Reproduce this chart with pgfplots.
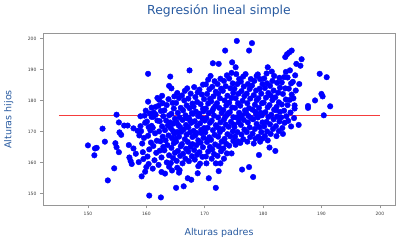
\documentclass[border=0pt]{standalone}
\usepackage{fontspec}
\setmainfont{DejaVu Sans}
\usepackage{pgfplots}
\pgfplotsset{compat=1.18}
\usepackage{pgfplotstable}
\usetikzlibrary{calc}
\definecolor{titleblue}{RGB}{40,90,160}
\definecolor{spinegray}{RGB}{150,150,150}
\definecolor{ticklab}{RGB}{60,60,60}
\definecolor{dotblue}{RGB}{0,0,255}
\definecolor{lred}{RGB}{245,60,60}

\pgfplotstableread{
x y
150.0 165.6
151.2 164.6
151.5 164.8
151.1 162.4
152.5 171.0
152.9 166.8
153.4 154.3
154.5 158.2
154.7 166.3
154.9 165.0
154.9 175.5
155.3 173.0
155.3 163.4
155.4 169.8
155.7 169.0
156.2 172.0
156.8 172.0
157.0 165.7
157.1 161.7
157.3 160.6
157.5 159.6
157.8 171.1
157.8 164.6
158.2 162.9
158.7 160.2
159.2 155.6
159.8 157.1
160.0 158.6
160.5 149.4
162.5 148.8
160.3 188.7
160.3 179.7
162.2 180.3
162.7 181.6
158.8 168.8
159.0 171.8
159.0 175.0
159.7 175.2
160.4 171.5
160.9 174.8
161.6 175.5
158.5 170.3
159.3 166.2
159.6 168.0
159.1 170.2
159.8 172.9
159.4 163.4
159.9 176.8
159.5 161.2
160.2 162.0
160.5 164.3
160.8 166.5
160.3 168.7
160.7 170.4
160.1 173.3
160.6 175.9
160.9 177.8
160.4 159.6
160.9 171.9
161.1 158.1
161.4 160.8
161.7 163.2
161.2 165.4
161.8 167.1
161.5 169.5
161.1 171.3
161.9 173.6
161.3 176.2
161.6 178.0
161.9 180.9
161.2 174.8
162.1 159.3
162.6 161.7
162.3 163.9
162.9 165.1
162.4 166.9
162.8 168.4
162.2 170.1
162.7 171.7
162.3 173.4
162.9 175.0
162.5 176.7
162.1 178.4
162.8 179.2
162.6 157.0
163.2 156.5
163.5 160.1
163.9 162.4
163.1 164.0
163.6 165.7
163.3 167.2
163.8 168.8
163.2 170.5
163.7 172.0
163.4 173.6
163.9 175.3
163.1 176.9
163.5 178.6
163.8 180.5
163.9 158.7
163.9 184.8
164.1 187.8
164.3 184.0
164.2 159.9
164.6 161.5
164.9 163.2
164.3 164.8
164.7 166.3
164.4 167.9
164.8 169.4
164.2 171.1
164.6 172.6
164.9 174.2
164.3 175.8
164.7 177.5
164.5 179.3
164.8 181.4
164.4 157.5
164.6 170.2
164.1 173.0
165.1 151.9
165.3 158.4
165.7 157.6
165.6 156.8
165.2 160.6
165.8 162.2
165.4 163.8
165.9 165.3
165.1 166.8
165.6 168.4
165.3 169.9
165.8 171.5
165.2 173.0
165.7 174.6
165.4 176.1
165.9 177.7
165.1 179.3
165.6 180.9
165.3 182.5
165.5 172.1
165.0 167.7
166.4 152.4
166.2 159.8
166.7 161.3
166.3 162.9
166.8 164.5
166.1 166.0
166.6 167.6
166.9 169.1
166.4 170.7
166.8 172.2
166.2 173.8
166.7 175.3
166.3 176.9
166.9 178.5
166.5 180.1
166.1 181.7
166.6 183.2
166.0 170.0
166.9 174.4
167.1 155.0
167.7 154.5
167.4 189.8
167.3 160.5
167.8 162.1
167.2 163.6
167.6 165.2
167.1 166.7
167.9 168.3
167.5 169.8
167.2 171.4
167.7 172.9
167.3 174.5
167.8 176.0
167.4 177.6
167.9 179.1
167.2 180.7
167.6 182.3
167.0 184.0
167.5 173.6
167.9 166.0
168.8 156.6
168.3 161.0
168.7 162.6
168.2 164.1
168.6 165.7
168.9 167.2
168.4 168.8
168.1 170.3
168.7 171.9
168.3 173.4
168.9 175.0
168.5 176.5
168.1 178.1
168.7 179.6
168.4 181.2
168.8 182.7
168.2 184.4
168.6 169.6
168.0 175.8
168.9 158.9
169.2 159.7
169.6 161.9
169.1 163.4
169.7 165.0
169.3 166.5
169.8 168.1
169.4 169.6
169.9 171.2
169.2 172.7
169.6 174.3
169.1 175.8
169.7 177.4
169.3 178.9
169.9 180.5
169.5 182.0
169.1 183.6
169.7 185.2
169.4 170.6
169.8 176.6
170.7 155.0
170.3 159.8
170.2 162.0
170.6 163.6
170.9 165.1
170.4 166.7
170.8 168.2
170.1 169.8
170.5 171.3
170.9 172.9
170.3 174.4
170.7 176.0
170.2 177.5
170.6 179.1
170.9 180.6
170.4 182.2
170.8 183.7
170.2 185.3
170.6 186.8
170.0 173.6
170.5 167.4
171.9 151.9
171.9 159.8
171.4 192.1
171.2 161.3
171.6 162.8
171.3 164.3
171.8 165.9
171.1 167.4
171.7 169.0
171.4 170.5
171.9 172.1
171.2 173.6
171.6 175.2
171.3 176.7
171.8 178.3
171.1 179.8
171.5 181.4
171.9 182.9
171.3 184.5
171.7 186.3
171.0 188.0
171.5 177.5
172.7 159.8
172.4 157.3
172.4 191.9
172.2 162.2
172.8 163.7
172.4 165.3
172.9 166.8
172.3 168.4
172.6 169.9
172.1 171.5
172.7 173.0
172.3 174.6
172.9 176.1
172.5 177.7
172.1 179.2
172.6 180.8
172.3 182.3
172.8 183.9
172.2 185.4
172.7 187.1
172.5 171.0
173.5 196.2
173.3 161.3
173.8 163.0
173.2 164.6
173.7 166.1
173.4 167.7
173.9 169.2
173.1 170.8
173.6 172.3
173.3 173.9
173.8 175.4
173.2 177.0
173.7 178.5
173.4 180.1
173.9 181.6
173.1 183.2
173.6 184.7
173.3 186.4
173.8 188.2
173.5 174.7
174.7 192.4
174.2 165.5
174.6 163.0
174.9 167.0
174.4 168.5
174.8 170.1
174.1 171.6
174.5 173.2
174.9 174.7
174.3 176.3
174.7 177.8
174.2 179.4
174.6 180.9
174.9 182.5
174.4 184.0
174.8 185.6
174.2 187.2
174.6 189.0
174.0 175.9
175.5 199.3
175.3 190.8
175.3 165.8
175.7 166.9
175.2 168.4
175.6 169.9
175.1 171.5
175.8 173.0
175.4 174.6
175.9 176.1
175.2 177.7
175.7 179.2
175.3 180.8
175.8 182.3
175.1 183.9
175.6 185.4
175.9 187.0
175.4 188.6
175.0 172.3
176.4 157.8
176.1 166.4
176.6 167.6
176.3 169.1
176.8 170.7
176.2 172.2
176.7 173.8
176.4 175.3
176.9 176.9
176.1 178.4
176.5 180.0
176.8 181.5
176.3 183.1
176.7 184.6
176.2 186.2
176.6 187.8
176.0 174.5
177.6 158.6
177.6 196.2
177.3 166.8
177.8 168.3
177.2 169.9
177.7 171.4
177.4 173.0
177.9 174.5
177.1 176.1
177.6 177.6
177.3 179.2
177.8 180.7
177.2 182.3
177.7 183.8
177.4 185.4
177.9 187.0
177.0 188.6
177.5 175.1
178.1 198.6
178.3 155.4
178.4 166.2
178.7 167.8
178.2 169.4
178.6 170.9
178.9 172.5
178.3 174.0
178.8 175.6
178.2 177.1
178.6 178.7
178.9 180.2
178.4 181.8
178.8 183.3
178.1 184.9
178.5 186.4
178.9 188.0
178.7 176.4
179.3 162.5
179.9 167.8
179.5 166.8
179.2 168.4
179.7 169.9
179.4 171.5
179.9 173.0
179.1 174.6
179.6 176.1
179.3 177.7
179.8 179.2
179.2 180.8
179.7 182.3
179.4 183.9
179.9 185.4
179.5 187.0
179.1 188.5
179.8 175.3
180.8 190.8
180.8 167.2
181.1 164.9
180.3 168.6
180.7 170.1
180.2 171.7
180.6 173.2
180.9 174.8
180.4 176.3
180.8 177.9
180.1 179.4
180.5 181.0
180.9 182.5
180.3 184.1
180.7 185.6
180.2 187.2
180.6 188.8
182.1 163.8
181.3 169.3
181.7 170.9
181.2 172.4
181.8 174.0
181.4 175.5
181.9 177.1
181.1 178.6
181.6 180.2
181.3 181.7
181.8 183.3
181.2 184.8
181.6 186.4
181.9 188.0
181.5 189.4
182.3 168.6
182.7 170.2
182.2 171.8
182.8 173.3
182.4 174.9
182.9 176.4
182.3 178.0
182.7 179.5
182.1 181.1
182.6 182.6
182.9 184.2
182.4 185.8
182.8 187.4
182.2 177.0
183.4 169.3
183.8 194.1
183.3 171.2
183.7 172.9
183.1 174.6
183.6 176.8
183.2 178.8
183.9 180.4
183.4 182.2
183.8 184.0
183.2 185.9
183.6 187.6
183.9 189.3
184.1 195.0
184.5 195.6
184.9 196.2
184.8 171.7
184.3 173.5
184.7 176.2
184.2 178.6
184.6 180.3
184.9 182.0
184.4 183.9
184.8 185.6
184.2 187.5
184.6 189.8
184.0 175.0
185.7 191.9
185.4 178.5
185.4 177.5
185.2 180.8
185.6 183.3
185.1 186.1
185.5 188.2
186.1 172.2
186.2 185.4
185.3 174.4
186.4 191.3
186.6 193.4
187.7 178.3
187.7 177.7
188.9 180.1
189.7 188.7
190.0 182.2
190.2 181.4
190.4 175.3
190.9 187.6
191.5 178.2
}\datatable

\pgfplotstableread{
x y
145 175.2
200 175.2
}\regline

\begin{document}
\begin{tikzpicture}
\begin{axis}[
  scale only axis, width=352pt, height=172pt,
  xmin=142.3, xmax=202.6, ymin=146.2, ymax=201.7,
  xtick={150,160,...,200}, ytick={150,160,...,200},
  tick align=outside, tick pos=left, major tick length=3pt,
  axis line style={spinegray, line width=0.8pt},
  tick style={spinegray, line width=0.6pt},
  ticklabel style={font=\fontsize{4.5}{5}\selectfont, text=ticklab},
  /pgf/number format/assume math mode=true,
  /pgf/number format/set thousands separator={},
  every axis title shift=0pt,
  title={Regresión lineal simple},
  title style={at={(axis description cs:0.5,1.1093)}, anchor=base, font=\fontsize{12.4}{14}\selectfont, text=titleblue},
  xlabel={Alturas padres},
  xlabel style={at={(axis description cs:0.5,-0.1744)}, anchor=base, font=\fontsize{9.5}{11}\selectfont, text=titleblue},
  ylabel={Alturas hijos},
  ylabel style={at={(axis description cs:-0.0895,0.5)}, anchor=base, font=\fontsize{9.5}{11}\selectfont, text=titleblue},
]
\addplot[only marks, mark=*, mark size=2.8pt, color=dotblue] table {\datatable};
\addplot[sharp plot, draw=lred, line width=1.4pt, mark=none] table {\regline};
\end{axis}
\pgfresetboundingbox
\path[use as bounding box] ($(current axis.south west)+(-43pt,-37.5pt)$) rectangle ($(current axis.north east)+(5pt,33.5pt)$);
\end{tikzpicture}
\end{document}
